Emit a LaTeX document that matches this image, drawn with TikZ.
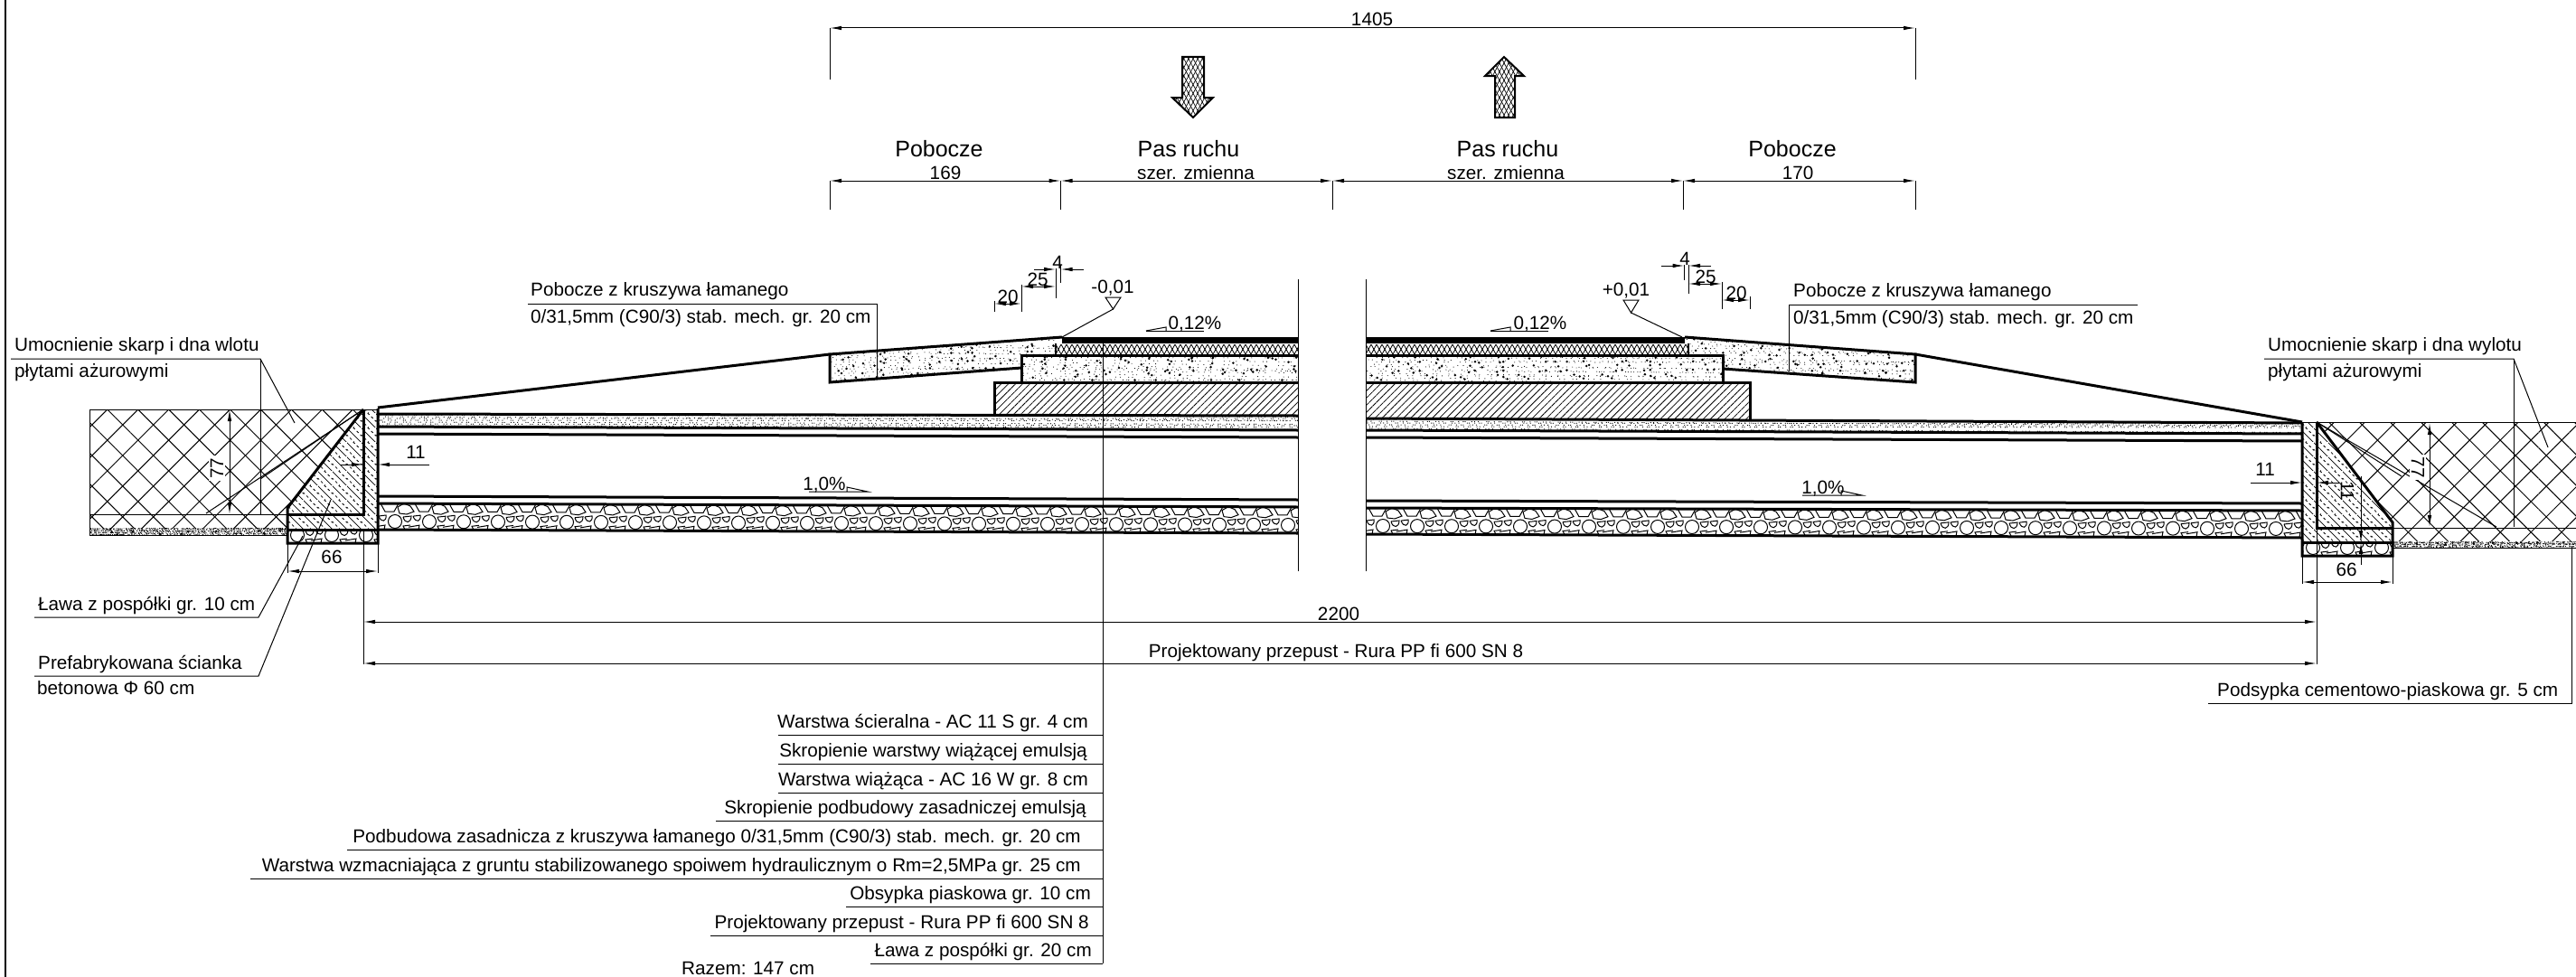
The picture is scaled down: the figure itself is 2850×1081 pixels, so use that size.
\documentclass[tikz,border=0pt]{standalone}
\usepackage{fontspec}
\setmainfont{Liberation Sans}
\usetikzlibrary{arrows.meta,patterns,patterns.meta}

% Concrete: solid and dashed lines in turn
\pgfdeclarepatternformonly{concrete}{\pgfqpoint{0pt}{0pt}}{\pgfqpoint{16pt}{16pt}}{\pgfqpoint{16pt}{16pt}}{%
  \pgfsetlinewidth{0.8pt}
  \pgfpathmoveto{\pgfqpoint{-1pt}{17pt}}\pgfpathlineto{\pgfqpoint{17pt}{-1pt}}\pgfusepath{stroke}
  \pgfsetdash{{3pt}{3pt}}{0pt}
  \pgfpathmoveto{\pgfqpoint{-1pt}{9pt}}\pgfpathlineto{\pgfqpoint{9pt}{-1pt}}\pgfusepath{stroke}
  \pgfpathmoveto{\pgfqpoint{7pt}{17pt}}\pgfpathlineto{\pgfqpoint{17pt}{7pt}}\pgfusepath{stroke}}

% Dots along faint rows: x1, y1, x2, y2
\newcommand{\finesand}[4]{
  \pgfmathsetmacro\rowa{#2-5}
  \pgfmathsetmacro\rowb{#2-3}
  \foreach \yy in {\rowa,\rowb,...,#4}{
    \pgfmathsetmacro\ph{rnd*60}
    \pgfmathsetmacro\tilt{rnd*6}
    \draw[line width=1.1pt,line cap=round,dash pattern=on .2pt off 5pt on .2pt off 2pt on .2pt off 7pt on .2pt off 3pt on .2pt off 4pt on .2pt off 9pt on .2pt off 2pt on .2pt off 6pt,dash phase=\ph pt]
      (#1,\yy) -- (#3,\yy+\tilt);
  }
}
\newcommand{\coarsesand}[4]{
  \pgfmathsetmacro\rowa{#2-5}
  \pgfmathsetmacro\rowb{#2-2.5}
  \foreach \yy in {\rowa,\rowb,...,#4}{
    \pgfmathsetmacro\ph{rnd*60}
    \pgfmathsetmacro\phb{rnd*120}
    \pgfmathsetmacro\tilt{rnd*6}
    \draw[line width=.9pt,line cap=round,dash pattern=on .2pt off 9pt on .2pt off 4pt on .2pt off 13pt on .2pt off 6pt on .2pt off 7pt on .2pt off 15pt on .2pt off 5pt,dash phase=\ph pt]
      (#1,\yy) -- (#3,\yy+\tilt);
    \draw[line width=2.6pt,line cap=round,dash pattern=on .2pt off 31pt on .2pt off 47pt on .2pt off 23pt on .2pt off 61pt,dash phase=\phb pt]
      (#1,\yy) -- (#3,\yy-\tilt);
  }
}

\tikzset{
  thinline/.style={line width=1pt},
  heavy/.style={line width=3pt},
  dimline/.style={thinline,{Latex[length=13pt,width=4.5pt]}-{Latex[length=13pt,width=4.5pt]}},
  dimend/.style={thinline,-{Latex[length=13pt,width=4.5pt]}},
  lbl/.style={inner sep=0pt,font=\fontsize{20.7}{24}\selectfont},
  biglbl/.style={inner sep=0pt,font=\fontsize{25}{30}\selectfont},
  mesha/.style={pattern={Lines[angle=45,distance=24pt,line width=1pt]}},
  meshb/.style={pattern={Lines[angle=-45,distance=24pt,line width=1pt]}},
  fina/.style={pattern={Lines[angle=62,distance=4.5pt,line width=.7pt]}},
  finb/.style={pattern={Lines[angle=-62,distance=4.5pt,line width=.7pt]}},
  stones/.pic={
    \draw[line width=1pt] (3,0) -- (8,9) -- (18,9) -- (23,0);
    \draw[line width=1pt] (22,4) -- (29,0) -- (36,3) -- (40,9) -- (32,12) -- (24,11) -- cycle;
    \draw[line width=1pt] (19,20) circle (7.5);
    \draw[line width=1pt] (1,14) -- (9,13) .. controls (10,20) and (4,22) .. (1,14);
    \draw[line width=1pt] (28,15) -- (37,14) .. controls (37,22) and (30,23) .. (28,15);
    \draw[line width=1pt] (-4,26) -- (8,24) -- (7,29);
    \draw[line width=1pt] (30,29) -- (28,25) -- (36,24);
  }
}

\begin{document}
\begin{tikzpicture}[x=1pt,y=-1pt]
  \useasboundingbox (0,0) rectangle (2850,1081);
  \pgfmathsetseed{7}

  % Left frame line
  \draw[line width=1.5pt] (6,0) -- (6,1081);

  % Slope protection, inlet and outlet
  \foreach \meshstyle in {mesha,meshb}{
    \fill[\meshstyle] (99,453) -- (402,453) -- (318,562) -- (318,585) -- (99,585) -- cycle;
    \fill[\meshstyle] (2563,467) -- (2850,467) -- (2850,599) -- (2647,599) -- (2647,578) -- cycle;
  }
  \draw[thinline] (99,585) -- (99,453) -- (402,453);
  \draw[thinline] (99,569) -- (318,569);
  \draw[thinline] (2563,467) -- (2850,467);
  \draw[thinline] (2647,584) -- (2850,584);

  % Sand bed under the protection
  \begin{scope}
    \clip (99,584) rectangle (318,592);
    \foreach \pass in {1,2,3,4}{
      \finesand{99}{584}{318}{592}
    }
    \coarsesand{99}{584}{318}{592}
  \end{scope}
  \draw[thinline] (99,584) -- (99,592) -- (318,592);
  \begin{scope}
    \clip (2647,599) rectangle (2850,606);
    \foreach \pass in {1,2,3,4}{
      \finesand{2647}{599}{2850}{606}
    }
    \coarsesand{2647}{599}{2850}{606}
  \end{scope}
  \draw[thinline] (2647,606) -- (2850,606);

  % Road layers, left half
  \begin{scope}
    \clip (418,458) -- (1436,460) -- (1436,476) -- (418,472) -- cycle;
    \finesand{418}{458}{1436}{476}
  \end{scope}
  \draw[heavy] (418,458) -- (1436,460);
  \draw[heavy] (418,472) -- (1436,476);
  \draw[heavy] (418,480) -- (1436,484);
  \draw[heavy] (418,549) -- (1436,553);
  \begin{scope}
    \clip (418,557) -- (1436,561) -- (1436,590) -- (418,586) -- cycle;
    \foreach \x in {418,456,...,1436}{
      \pgfmathsetmacro\yy{557+(\x-418)*0.004}
      \pic at (\x,\yy) {stones};
    }
  \end{scope}
  \draw[heavy] (418,557) -- (1436,561);
  \draw[heavy] (418,586) -- (1436,590);
  \fill[pattern={Lines[angle=45,distance=5.6pt,line width=.8pt]}] (1100,423) rectangle (1436,460);
  \draw[heavy] (1436,423) -- (1100,423) -- (1100,460);
  \begin{scope}
    \clip (1130,393) rectangle (1436,422);
    \coarsesand{1130}{393}{1436}{422}
  \end{scope}
  \draw[heavy] (1436,393) -- (1130,393) -- (1130,423);
  \begin{scope}
    \clip (1168,381) rectangle (1436,392);
    \foreach \x in {1168,1180,...,1436}{
      \draw[line width=.8pt] (\x,381) -- (\x+6,392) -- (\x+12,381);
      \draw[line width=.8pt] (\x,392) -- (\x+6,381) -- (\x+12,392);
    }
  \end{scope}
  \draw[line width=1.5pt] (1168,380) -- (1168,393);
  \fill (1175,373) rectangle (1436,380);

  % Road layers, right half
  \begin{scope}
    \clip (1511,463) -- (2547,468) -- (2547,480) -- (1511,476) -- cycle;
    \finesand{1511}{463}{2547}{480}
  \end{scope}
  \draw[heavy] (1511,463) -- (2547,468);
  \draw[heavy] (1511,476) -- (2547,480);
  \draw[heavy] (1511,484) -- (2547,488);
  \draw[heavy] (1511,554) -- (2547,557);
  \begin{scope}
    \clip (1511,562) -- (2547,565) -- (2547,595) -- (1511,591) -- cycle;
    \foreach \x in {1511,1549,...,2547}{
      \pgfmathsetmacro\yy{562+(\x-1511)*0.003}
      \pic at (\x,\yy) {stones};
    }
  \end{scope}
  \draw[heavy] (1511,562) -- (2547,565);
  \draw[heavy] (1511,591) -- (2547,595);
  \fill[pattern={Lines[angle=45,distance=5.6pt,line width=.8pt]}] (1511,423) rectangle (1936,463);
  \draw[heavy] (1511,423) -- (1936,423) -- (1936,465);
  \begin{scope}
    \clip (1511,393) rectangle (1906,422);
    \coarsesand{1511}{393}{1906}{422}
  \end{scope}
  \draw[heavy] (1511,393) -- (1906,393) -- (1906,423);
  \begin{scope}
    \clip (1511,381) rectangle (1868,392);
    \foreach \x in {1511,1523,...,1868}{
      \draw[line width=.8pt] (\x,381) -- (\x+6,392) -- (\x+12,381);
      \draw[line width=.8pt] (\x,392) -- (\x+6,381) -- (\x+12,392);
    }
  \end{scope}
  \draw[line width=1.5pt] (1868,380) -- (1868,393);
  \fill (1511,373) rectangle (1864,380);

  % Shoulders
  \begin{scope}
    \clip (918,392) -- (1175,373) -- (1167,380) -- (1167,393) -- (1130,393) -- (1130,407) -- (918,423) -- cycle;
    \coarsesand{918}{373}{1175}{423}
  \end{scope}
  \draw[heavy] (1175,373) -- (918,392) -- (918,423) -- (1130,407);
  \draw[heavy] (918,392) -- (418,451);
  \begin{scope}
    \clip (2119,392) -- (1864,373) -- (1868,380) -- (1868,393) -- (1906,393) -- (1906,408) -- (2119,423) -- cycle;
    \coarsesand{1864}{373}{2119}{423}
  \end{scope}
  \draw[heavy] (1864,373) -- (2119,392) -- (2119,423) -- (1906,408);
  \draw[heavy] (2119,392) -- (2547,467);

  % Prefabricated end walls
  \fill[pattern=concrete] (402,453) -- (418,453) -- (418,586) -- (318,586) -- (318,562) -- cycle;
  \begin{scope}
    \clip (318,601) rectangle (418,586);
    \foreach \x in {310,348,386}{ \pic at (\x,572) {stones}; }
  \end{scope}
  \draw[thinline] (402,453) -- (418,453);
  \draw[heavy] (402,453) -- (318,562) -- (318,601) -- (418,601) -- (418,452);
  \draw[heavy] (402,453) -- (402,569) -- (318,569);
  \draw[heavy] (318,586) -- (418,586);
  \fill[pattern=concrete] (2547,467) -- (2563,467) -- (2647,578) -- (2647,600) -- (2547,600) -- cycle;
  \begin{scope}
    \clip (2547,615) rectangle (2647,600);
    \foreach \x in {2540,2578,2616}{ \pic at (\x,586) {stones}; }
  \end{scope}
  \draw[thinline] (2547,467) -- (2563,467);
  \draw[heavy] (2563,467) -- (2647,578) -- (2647,615) -- (2547,615) -- (2547,467);
  \draw[heavy] (2563,467) -- (2563,584) -- (2647,584);
  \draw[heavy] (2547,600) -- (2647,600);

  % Break lines and leader through the layers
  \draw[thinline] (1436,309) -- (1436,632);
  \draw[thinline] (1511,309) -- (1511,632);
  \draw[thinline] (1220,375) -- (1220,1066);

  % Traffic arrows
  \draw[line width=2pt,fill=white] (1308,63) -- (1332,63) -- (1332,108) -- (1342,108) -- (1320,130) -- (1297,108) -- (1308,108) -- cycle;
  \fill[fina] (1308,63) -- (1332,63) -- (1332,108) -- (1342,108) -- (1320,130) -- (1297,108) -- (1308,108) -- cycle;
  \fill[finb] (1308,63) -- (1332,63) -- (1332,108) -- (1342,108) -- (1320,130) -- (1297,108) -- (1308,108) -- cycle;
  \draw[line width=2pt,fill=white] (1654,130) -- (1676,130) -- (1676,84) -- (1686,84) -- (1664,63) -- (1643,84) -- (1654,84) -- cycle;
  \fill[fina] (1654,130) -- (1676,130) -- (1676,84) -- (1686,84) -- (1664,63) -- (1643,84) -- (1654,84) -- cycle;
  \fill[finb] (1654,130) -- (1676,130) -- (1676,84) -- (1686,84) -- (1664,63) -- (1643,84) -- (1654,84) -- cycle;

  % Top dimensions
  \draw[dimline] (918,31) -- (2119,31);
  \draw[thinline] (918,31) -- (918,88);
  \draw[thinline] (2119,31) -- (2119,88);
  \draw[dimline] (918,200) -- (1173.5,200);
  \draw[dimline] (1173.5,200) -- (1474,200);
  \draw[dimline] (1474,200) -- (1862,200);
  \draw[dimline] (1862,200) -- (2119,200);
  \foreach \x in {918,1173.5,1474,1862,2119}{
    \draw[thinline] (\x,200) -- (\x,232);
  }
  \node[lbl,anchor=base] (widthall) at (1518,29) {1405};
  \node[biglbl,anchor=base] (shoulderl) at (1039,173) {Pobocze};
  \node[biglbl,anchor=base] (lanel) at (1315,173) {Pas ruchu};
  \node[biglbl,anchor=base] (laner) at (1668,173) {Pas ruchu};
  \node[biglbl,anchor=base] (shoulderr) at (1983,173) {Pobocze};
  \node[lbl,anchor=base] (widthl) at (1046,198) {169};
  \node[lbl,anchor=base] (varl) at (1323,198) {szer. zmienna};
  \node[lbl,anchor=base] (varr) at (1666,198) {szer. zmienna};
  \node[lbl,anchor=base] (widthr) at (1989,198) {170};

  % Small widths at the left shoulder
  \draw[dimend] (1144,298) -- (1168,298);
  \draw[dimend] (1199,298) -- (1173.5,298);
  \draw[dimline] (1130,317) -- (1168,317);
  \draw[dimline] (1100,336) -- (1130,336);
  \draw[thinline] (1168,297) -- (1168,330);
  \draw[thinline] (1173.5,293) -- (1173.5,313);
  \draw[thinline] (1130,315) -- (1130,345);
  \draw[thinline] (1100,333) -- (1100,345);
  \node[lbl,anchor=base] (fourl) at (1170,297) {4};
  \node[lbl,anchor=base] (twofivel) at (1148,316) {25};
  \node[lbl,anchor=base] (twentyl) at (1115,335) {20};

  % Small widths at the right shoulder
  \draw[dimend] (1838,294) -- (1863.5,294);
  \draw[dimend] (1893,294) -- (1868,294);
  \draw[dimline] (1868,314) -- (1905,314);
  \draw[dimline] (1905,332) -- (1936,332);
  \draw[thinline] (1863.5,293) -- (1863.5,310);
  \draw[thinline] (1868,293) -- (1868,325);
  \draw[thinline] (1905,312) -- (1905,342);
  \draw[thinline] (1936,328) -- (1936,342);
  \node[lbl,anchor=base] (fourr) at (1864,293) {4};
  \node[lbl,anchor=base] (twofiver) at (1887,313) {25};
  \node[lbl,anchor=base] (twentyr) at (1921,331) {20};

  % Level marks and slopes
  \draw[thinline] (1223,329) -- (1240,329) -- (1231.5,342) -- cycle;
  \draw[thinline] (1231.5,342) -- (1175,373);
  \node[lbl,anchor=base] (levell) at (1231,324) {-0,01};
  \draw[thinline] (1796,332) -- (1813,332) -- (1804.5,346) -- cycle;
  \draw[thinline] (1804.5,346) -- (1861,373);
  \node[lbl,anchor=base] (levelr) at (1799,327) {+0,01};
  \draw[thinline] (1268,366) -- (1332,366);
  \draw[thinline] (1268,366) -- (1290,362) -- (1290,366);
  \node[lbl,anchor=base] (slopel) at (1322,364) {0,12\%};
  \draw[thinline] (1649,366) -- (1713,366);
  \draw[thinline] (1649,366) -- (1671,362) -- (1671,366);
  \node[lbl,anchor=base] (sloper) at (1704,364) {0,12\%};
  \draw[thinline] (895,544) -- (960,544) -- (937,539) -- (937,544);
  \node[lbl,anchor=base] (pipel) at (912,542) {1,0\%};
  \draw[thinline] (1994,548) -- (2060,548) -- (2037,543) -- (2037,548);
  \node[lbl,anchor=base] (piper) at (2017,546) {1,0\%};

  % Inlet dimensions
  \draw[thinline] (402,453) -- (228,568);
  \draw[thinline] (402,453) -- (288,530);
  \draw[dimline] (254,453) -- (254,569);
  \node[lbl,anchor=center,rotate=90,fill=white,inner sep=2pt] (heightl) at (240,518) {77};
  \draw[dimend] (475,514) -- (418,514);
  \draw[dimend] (377,514) -- (402,514);
  \node[lbl,anchor=base] (walll) at (460,507) {11};
  \draw[dimline] (318,632) -- (418,632);
  \draw[thinline] (318,601) -- (318,634);
  \draw[thinline] (418,601) -- (418,634);
  \node[lbl,anchor=base] (basel) at (367,623) {66};

  % Outlet dimensions
  \draw[thinline] (2563,467) -- (2762,583);
  \draw[thinline] (2563,467) -- (2657,527);
  \draw[dimline] (2688,468) -- (2688,583);
  \node[lbl,anchor=center,rotate=-90,fill=white,inner sep=2pt] (heightr) at (2675,517) {77};
  \draw[dimend] (2490,534) -- (2547,534);
  \draw[dimend] (2588,534) -- (2563,534);
  \node[lbl,anchor=base] (wallr) at (2506,526) {11};
  \draw[thinline,-{Latex[length=13pt,width=4.5pt]}] (2612,527) -- (2612,600);
  \draw[thinline,-{Latex[length=13pt,width=4.5pt]}] (2612,625) -- (2612,600);
  \node[lbl,anchor=center,rotate=-90] (wallin) at (2597,543) {11};
  \draw[dimline] (2547,644) -- (2647,644);
  \draw[thinline] (2547,615) -- (2547,646);
  \draw[thinline] (2647,615) -- (2647,646);
  \node[lbl,anchor=base] (baser) at (2596,637) {66};

  % Total length
  \draw[thinline] (402,586) -- (402,735);
  \draw[thinline] (2563,584) -- (2563,735);
  \draw[dimline] (402,688) -- (2563,688);
  \draw[dimline] (402,734) -- (2563,734);
  \node[lbl,anchor=base] (lengthall) at (1481,686) {2200};
  \node[lbl,anchor=base] (pipelen) at (1478,727) {Projektowany przepust - Rura PP fi 600 SN 8};

  % Leaders, left side
  \draw[thinline] (12,397) -- (288,397) -- (326,468);
  \draw[thinline] (288,397) -- (288,569);
  \node[lbl,anchor=base west] (wlot) at (16,388) {Umocnienie skarp i dna wlotu};
  \node[lbl,anchor=base west] (wlotb) at (16,417) {płytami ażurowymi};
  \draw[thinline] (38,683) -- (286,683) -- (335,593);
  \node[lbl,anchor=base west] (lawal) at (42,675) {Ława z pospółki gr. 10 cm};
  \draw[thinline] (38,748) -- (286,748) -- (366,553);
  \node[lbl,anchor=base west] (prefab) at (42,740) {Prefabrykowana ścianka};
  \node[lbl,anchor=base west] (prefabb) at (41,768) {betonowa Φ 60 cm};

  % Leaders, shoulders
  \draw[thinline] (584,336) -- (970,336) -- (970,418);
  \node[lbl,anchor=base west] (pobl) at (587,327) {Pobocze z kruszywa łamanego};
  \node[lbl,anchor=base west] (poblb) at (587,357) {0/31,5mm (C90/3) stab. mech. gr. 20 cm};
  \draw[thinline] (2365,337) -- (1979,337) -- (1979,411);
  \node[lbl,anchor=base west] (pobr) at (1984,328) {Pobocze z kruszywa łamanego};
  \node[lbl,anchor=base west] (pobrb) at (1984,358) {0/31,5mm (C90/3) stab. mech. gr. 20 cm};

  % Leaders, right side
  \draw[thinline] (2505,397) -- (2781,397) -- (2819,495);
  \draw[thinline] (2781,397) -- (2781,583);
  \node[lbl,anchor=base west] (wylot) at (2509,388) {Umocnienie skarp i dna wylotu};
  \node[lbl,anchor=base west] (wylotb) at (2509,417) {płytami ażurowymi};
  \draw[thinline] (2443,778) -- (2845,778) -- (2845,605);
  \node[lbl,anchor=base west] (podsypka) at (2453,770) {Podsypka cementowo-piaskowa gr. 5 cm};

  % Layer list under the section
  \foreach \ly/\lx in {813/861,845/861,877/861,908/792,940/384,972/277,1003/936,1035/786,1066/963}{
    \draw[thinline] (\lx,\ly) -- (1220,\ly);
  }
  \node[lbl,anchor=base east] (layera) at (1204,805) {Warstwa ścieralna - AC 11 S gr. 4 cm};
  \node[lbl,anchor=base east] (layerb) at (1203,837) {Skropienie warstwy wiążącej emulsją};
  \node[lbl,anchor=base east] (layerc) at (1204,869) {Warstwa wiążąca - AC 16 W gr. 8 cm};
  \node[lbl,anchor=base east] (layerd) at (1202,900) {Skropienie podbudowy zasadniczej emulsją};
  \node[lbl,anchor=base east] (layere) at (1196,932) {Podbudowa zasadnicza z kruszywa łamanego 0/31,5mm (C90/3) stab. mech. gr. 20 cm};
  \node[lbl,anchor=base east] (layerf) at (1196,964) {Warstwa wzmacniająca z gruntu stabilizowanego spoiwem hydraulicznym o Rm=2,5MPa gr. 25 cm};
  \node[lbl,anchor=base east] (layerg) at (1207,995) {Obsypka piaskowa gr. 10 cm};
  \node[lbl,anchor=base east] (layerh) at (1205,1027) {Projektowany przepust - Rura PP fi 600 SN 8};
  \node[lbl,anchor=base east] (layeri) at (1208,1058) {Ława z pospółki gr. 20 cm};
  \node[lbl,anchor=base west] (total) at (754,1078) {Razem: 147 cm};
\end{tikzpicture}
\end{document}
